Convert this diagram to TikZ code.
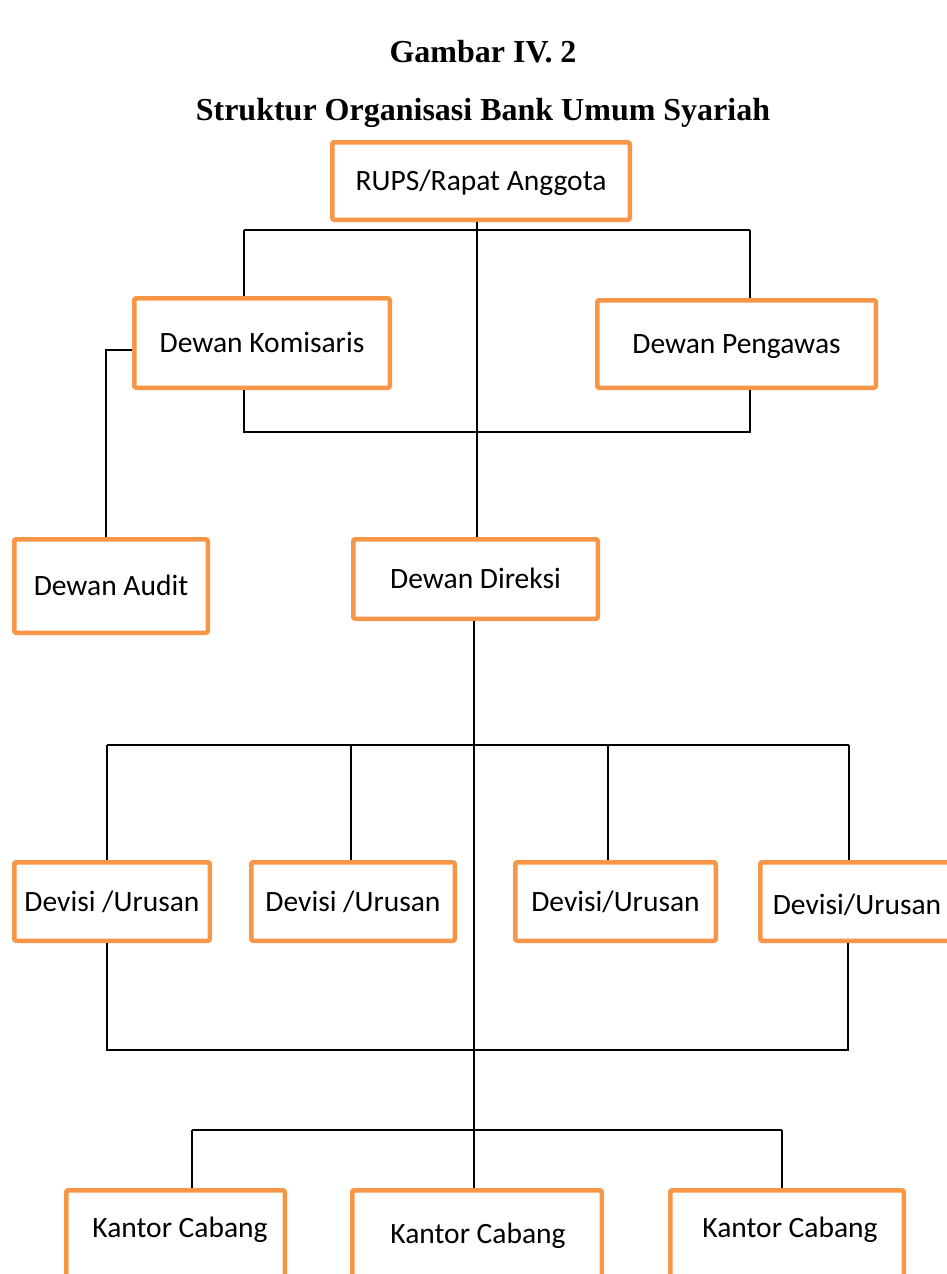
\documentclass[tikz,border=0pt]{standalone}
\usepackage{fontspec}
\setmainfont{Liberation Serif}
\newfontfamily\boxfont{Carlito}
\definecolor{boxorange}{HTML}{F79646}
\begin{document}
\begin{tikzpicture}[x=1pt,y=-1pt,
  orgbox/.style={draw=boxorange, line width=4.5pt, rounded corners=2pt, fill=white,
    inner sep=0pt, text height=19pt, text depth=0pt,
    font=\boxfont\fontsize{29.5}{34}\selectfont},
  boxtext/.style={inner sep=0pt, text height=19pt, text depth=0pt,
    font=\boxfont\fontsize{29.5}{34}\selectfont},
  conn/.style={draw=black, line width=1.8pt},
  title/.style={font=\bfseries\fontsize{32}{38}\selectfont, anchor=base, inner sep=0pt}]
\clip (0,0) rectangle (947,1274);
\fill[white] (0,0) rectangle (947,1274);

% titles
\node[title] (t1) at (483,62) {Gambar IV. 2};
\node[title] (t2) at (483,120) {Struktur Organisasi Bank Umum Syariah};

% boxes
\node[orgbox, minimum width=297.5pt, minimum height=77.5pt] (rups) at (481,181) {RUPS/Rapat Anggota};
\node[orgbox, minimum width=255.5pt, minimum height=89.5pt] (kom) at (262,343) {Dewan Komisaris};
\node[orgbox, minimum width=278.5pt, minimum height=87.5pt] (peng) at (736.5,344) {Dewan Pengawas};
\node[orgbox, minimum width=193.5pt, minimum height=93.5pt] (audit) at (111,586) {Dewan Audit};
\node[orgbox, minimum width=244.5pt, minimum height=79.5pt] (dir) at (475.5,579) {Dewan Direksi};

\node[orgbox, minimum width=195.5pt, minimum height=78.5pt] (dev1) at (112,901.5) {Devisi /Urusan};
\node[orgbox, minimum width=203.5pt, minimum height=78.5pt] (dev2) at (353,901.5) {Devisi /Urusan};
\node[orgbox, minimum width=200.5pt, minimum height=78.5pt] (dev3) at (615.5,901.5) {Devisi/Urusan};
\node[orgbox, minimum width=203.5pt, minimum height=78.5pt] (dev4) at (862,901.5) {};
\node[boxtext] (dev4t) at (857,905) {Devisi/Urusan};

\node[orgbox, minimum width=218.5pt, minimum height=117.5pt] (k1) at (175.5,1249) {};
\node[orgbox, minimum width=249.5pt, minimum height=117.5pt] (k2) at (477,1249) {};
\node[orgbox, minimum width=233.5pt, minimum height=117.5pt] (k3) at (787,1249) {};
\node[boxtext] (k1t) at (180,1228) {Kantor Cabang};
\node[boxtext] (k2t) at (478,1234) {Kantor Cabang};
\node[boxtext] (k3t) at (790,1228) {Kantor Cabang};

% coordinates of buses
\coordinate (tA) at (477,230);
\coordinate (b1L) at (244,230);
\coordinate (b1R) at (750,230);
\coordinate (b2L) at (244,432);
\coordinate (b2R) at (750,432);
\coordinate (a1) at (106,350);
\coordinate (tB) at (474,745);
\coordinate (c1) at (107,745);
\coordinate (c2) at (351,745);
\coordinate (c3) at (608,745);
\coordinate (c4) at (849,745);
\coordinate (d1) at (107,1050);
\coordinate (d4) at (848,1050);
\coordinate (e1) at (192,1130);
\coordinate (e3) at (782,1130);

% connectors
\draw[conn] (tA |- rups.south) -- (tA |- dir.north);
\draw[conn] (b1L) -- (b1R);
\draw[conn] (b1L) -- (b1L |- kom.north);
\draw[conn] (b1R) -- (b1R |- peng.north);
\draw[conn] (b2L |- kom.south) -- (b2L) -- (b2R) -- (b2R |- peng.south);
\draw[conn] (kom.west |- a1) -- (a1) -- (a1 |- audit.north);

\draw[conn, line width=1.5pt] (tB |- dir.south) -- (tB |- k2.north);
\draw[conn] (c1) -- (c4);
\draw[conn] (c1) -- (c1 |- dev1.north);
\draw[conn] (c2) -- (c2 |- dev2.north);
\draw[conn] (c3) -- (c3 |- dev3.north);
\draw[conn] (c4) -- (c4 |- dev4.north);
\draw[conn] (d1 |- dev1.south) -- (d1) -- (d4) -- (d4 |- dev4.south);
\draw[conn] (e1) -- (e3);
\draw[conn] (e1) -- (e1 |- k1.north);
\draw[conn] (e3) -- (e3 |- k3.north);
\end{tikzpicture}
\end{document}
